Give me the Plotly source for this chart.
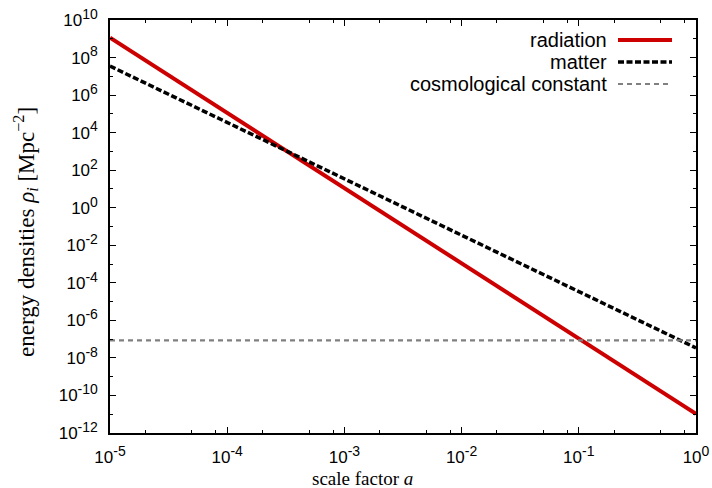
import plotly.graph_objects as go

# ---- data ----
scale_factor = [1e-5, 1.0]
radiation = [1.15e9, 1.05e-11]
matter = [3.5e7, 3.4e-8]
cosmological_constant = [8.5e-8, 8.5e-8]

series_names = ["radiation", "matter", "cosmological constant"]

x_tickvals = [1e-5, 1e-4, 1e-3, 1e-2, 1e-1, 1e0]
x_exponents = ["-5", "-4", "-3", "-2", "-1", "0"]
y_exponents = ["10", "8", "6", "4", "2", "0", "-2", "-4", "-6", "-8", "-10", "-12"]
y_tickvals = [10.0 ** int(e) for e in y_exponents]
y_minor = [10.0 ** e for e in [9, 7, 5, 3, 1, -1, -3, -5, -7, -9, -11]]
x_minor = [m * 10.0 ** d for d in [-5, -4, -3, -2, -1] for m in (2, 5, 8)]

SUP = "<sup><span style='font-size:14px'>%s</span></sup>"
x_ticktext = ["10" + SUP % e for e in x_exponents]
y_ticktext = ["10" + SUP % e for e in y_exponents]

# ---- layout geometry ----
W, H = 712, 488
L, R, T, B = 110, 16, 20, 55
pw, ph = W - L - R, H - T - B

styles = [
    dict(color="#cc0000", width=4, dash="solid"),
    dict(color="#000000", width=3.5, dash="6px,2.5px"),
    dict(color="#808080", width=2.2, dash="5px,4px"),
]

fig = go.Figure()
for name, ys, st in zip(series_names, [radiation, matter, cosmological_constant], styles):
    fig.add_trace(go.Scatter(x=scale_factor, y=ys, mode="lines", name=name,
                             line=st, showlegend=False))

axis_common = dict(
    type="log", showgrid=False, zeroline=False, showline=True, automargin=False,
    linecolor="black", linewidth=1.5, mirror="allticks", ticks="inside",
    ticklen=6, tickwidth=1.2, tickcolor="black",
    tickfont=dict(family="Liberation Sans, Arial, sans-serif", size=17, color="black"),
)

fig.update_xaxes(range=[-5, 0], tickvals=x_tickvals, ticktext=x_ticktext,
                 ticklabelstandoff=8,
                 minor=dict(tickvals=x_minor, ticklen=3, tickwidth=1.2,
                            tickcolor="black", ticks="inside"),
                 **axis_common)
fig.update_yaxes(range=[-12, 10], tickvals=y_tickvals, ticktext=y_ticktext,
                 ticklabelstandoff=7,
                 minor=dict(tickvals=y_minor, ticklen=3, tickwidth=1.2,
                            tickcolor="black", ticks="inside"),
                 **axis_common)

def px_x(p):
    return (p - L) / pw

def px_y(p):
    return (H - B - p) / ph

annotations = []
shapes = []
legend_rows = [40, 62, 84]
for name, st, yy in zip(series_names, styles, legend_rows):
    annotations.append(dict(text=name, x=px_x(609), y=px_y(yy), xref="paper", yref="paper",
                            xanchor="right", yanchor="middle", showarrow=False,
                            font=dict(family="Liberation Sans, Arial, sans-serif",
                                      size=20, color="black")))
    shapes.append(dict(type="line", xref="paper", yref="paper",
                       x0=px_x(618), x1=px_x(672), y0=px_y(yy), y1=px_y(yy),
                       line=st))

serif = "Liberation Serif, Times New Roman, serif"
annotations.append(dict(text="scale factor <i>a</i>", x=px_x(362), y=px_y(478),
                        xref="paper", yref="paper", xanchor="center", yanchor="middle",
                        showarrow=False, font=dict(family=serif, size=19, color="black")))
annotations.append(dict(text="energy densities <i>ρ<sub>i</sub></i> [Mpc<sup>−2</sup>]",
                        x=px_x(25), y=px_y(232), xref="paper", yref="paper",
                        xanchor="center", yanchor="middle", textangle=-90,
                        showarrow=False, font=dict(family=serif, size=23, color="black")))

fig.update_layout(
    width=W, height=H, margin=dict(l=L, r=R, t=T, b=B),
    paper_bgcolor="white", plot_bgcolor="white",
    annotations=annotations, shapes=shapes, showlegend=False,
)

fig.write_html("out.html")
